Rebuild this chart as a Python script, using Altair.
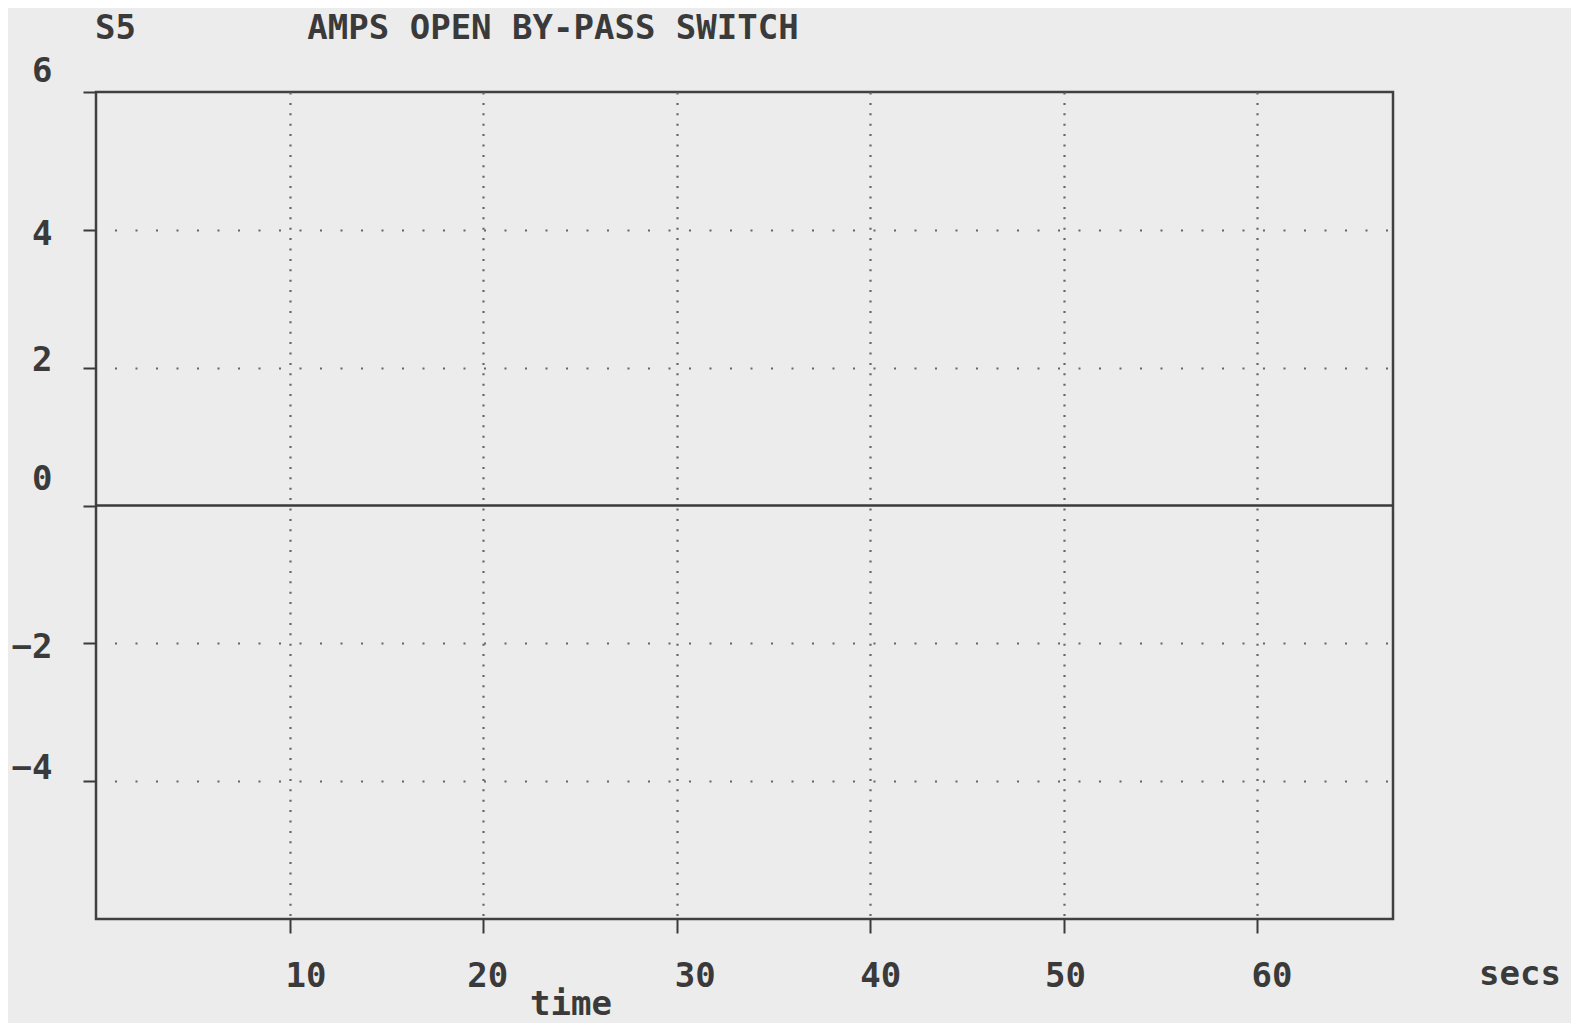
import altair as alt
import pandas as pd

# data
time_s = [0, 10, 20, 30, 40, 50, 60, 67]
amps = [0, 0, 0, 0, 0, 0, 0, 0]
x_ticks = [10, 20, 30, 40, 50, 60]
y_ticks = [-4, -2, 0, 2, 4, 6]
title_id = "S5"
title_text = "AMPS OPEN BY-PASS SWITCH"
x_unit = "secs"
x_title = "time"

df = pd.DataFrame({"time": time_s, "amps": amps})

FONT = "DejaVu Sans Mono"
INK = "#3a3a3a"
W, H = 1297, 827

xscale = alt.Scale(domain=[0, 67], nice=False, zero=False)
yscale = alt.Scale(domain=[-6, 6], nice=False, zero=False)

x_axis = alt.Axis(
    values=x_ticks, title=None, domain=False, grid=True,
    gridDash=[2, 8.4], gridColor="#666666", gridWidth=2.2,
    tickSize=14, tickWidth=2, tickColor=INK,
    labelFont=FONT, labelFontSize=34, labelColor=INK, labelFontWeight="bold",
    labelBaseline="middle", labelPadding=43,
    labelOffset=alt.ExprRef(
        "datum.value==10?16:datum.value==20?4:datum.value==30?18:datum.value==40?10:datum.value==50?1:14"
    ),
)
y_axis = alt.Axis(
    values=y_ticks, title=None, domain=False, grid=True,
    gridDash=[2, 18.5], gridDashOffset=2, gridColor="#666666", gridWidth=2.2,
    gridOpacity=alt.ExprRef("datum.value==0||datum.value==6?0:1"),
    tickSize=13, tickWidth=2, tickColor=INK,
    labelFont=FONT, labelFontSize=34, labelColor=INK, labelFontWeight="bold",
    labelAlign="right", labelBaseline="middle", labelPadding=31,
    labelOffset=alt.ExprRef(
        "datum.value==6?-21:datum.value==4?5:datum.value==2?-7:datum.value==0?-26:datum.value==-2?4:-13"
    ),
)

line = alt.Chart(df).mark_line(color=INK, strokeWidth=2.5).encode(
    x=alt.X("time:Q", scale=xscale, axis=x_axis),
    y=alt.Y("amps:Q", scale=yscale, axis=y_axis),
)

def label(txt, x, y, align="center"):
    return alt.Chart(pd.DataFrame({"t": [txt]})).mark_text(
        font=FONT, fontSize=34, fontWeight="bold", color=INK, align=align, baseline="middle"
    ).encode(text="t:N", x=alt.value(x), y=alt.value(y))

chart = alt.layer(
    line,
    label(title_id, -1, -63, "left"),
    label(title_text, 457, -63),
    label(x_unit, 1424, 883),
    label(x_title, 475, 913),
).properties(
    width=W, height=H,
    autosize=alt.AutoSizeParams(type="none"),
    padding={"left": 88, "top": 84, "right": 178, "bottom": 104},
).configure(
    background="#ececec",
).configure_view(
    stroke="#404040", strokeWidth=2.5,
)

chart.save("out.html", embed_options={"renderer": "svg", "actions": False})
